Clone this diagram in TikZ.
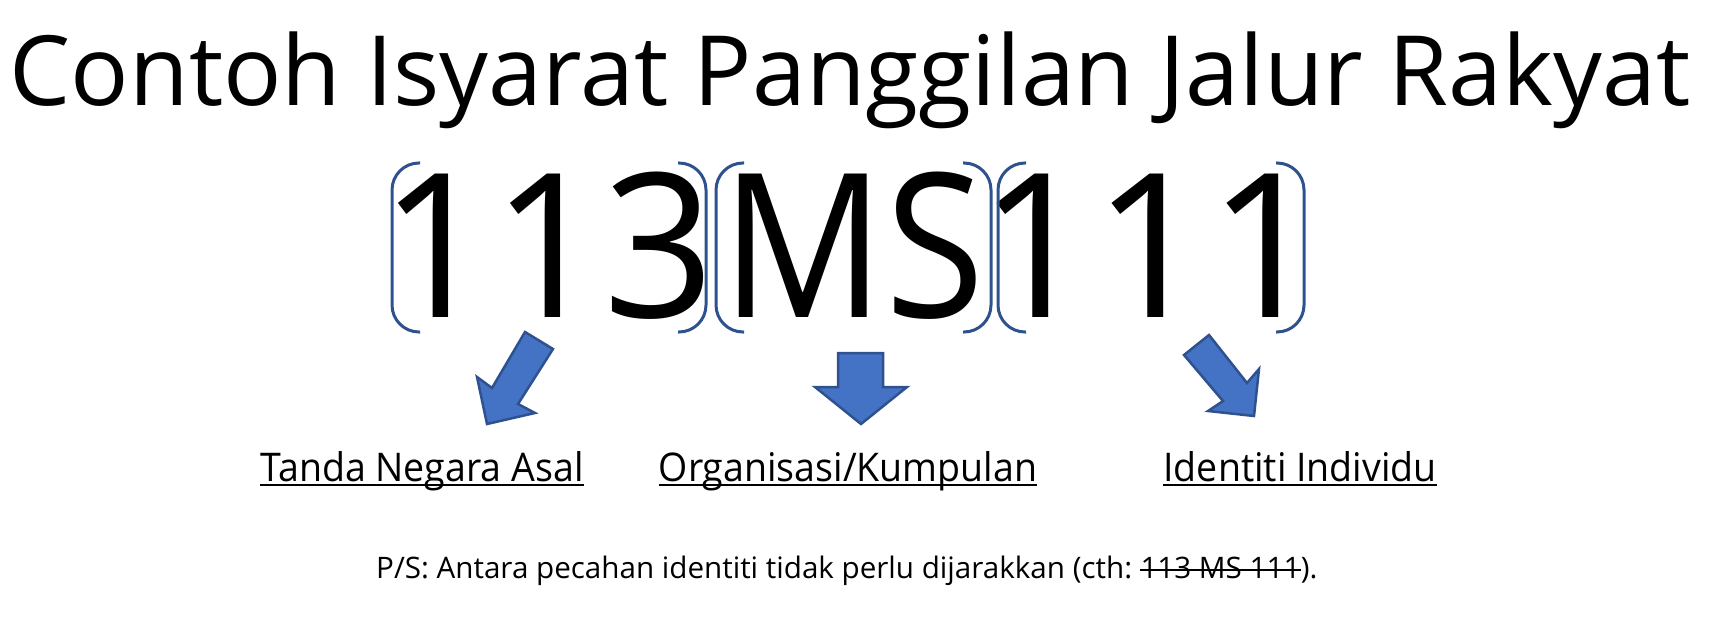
\documentclass[tikz,border=0pt]{standalone}
\usepackage{fontspec}
\setmainfont{Open Sans}
\newfontfamily\narrowfont[FakeStretch=0.9]{Open Sans}
\newfontfamily\digitfont[FakeStretch=0.97]{Open Sans}
\newfontfamily\labelfont[FakeStretch=0.95]{Open Sans}
\definecolor{fillblue}{RGB}{68,114,196}
\definecolor{edgeblue}{RGB}{47,82,143}
\usetikzlibrary{calc}

\begin{document}
\begin{tikzpicture}[x=1pt, y=-1pt,
  heading/.style={anchor=base, inner sep=0pt, font=\fontsize{97}{97}\selectfont},
  callsign/.style={anchor=base, inner sep=0pt, font=\fontsize{201}{201}\selectfont},
  partlabel/.style={anchor=base, inner sep=0pt, font=\labelfont\fontsize{39.5}{39.5}\selectfont},
  note/.style={anchor=base west, inner sep=0pt, font=\fontsize{29.6}{29.6}\selectfont},
  bracket/.style={edgeblue, line width=3pt, rounded corners=27pt},
  blockarrow/.style={fill=fillblue, draw=edgeblue, line width=2.5pt, line join=miter},
  underbar/.style={line width=2.7pt},
]
  \useasboundingbox (0,0) rectangle (1720,617);

  \node[heading] (title) at (850,106) {Contoh Isyarat Panggilan Jalur Rakyat};

  % the three parts of the call sign
  \node[callsign] (country) at (548,317) {\digitfont 113};
  \node[callsign] (club) at (853,317) {\narrowfont MS};
  \node[callsign] (person) at (1151,317) {111};

  \foreach \l/\r in {392/706, 716/991, 998/1304} {
    \draw[bracket] (\l+28,163) -- (\l,163) -- (\l,332) -- (\l+28,332);
    \draw[bracket] (\r-28,163) -- (\r,163) -- (\r,332) -- (\r-28,332);
  }

  % block arrows
  \draw[blockarrow] (525,332) -- (553,349) -- (518,404) -- (535,413)
    -- (487,424) -- (477,377) -- (492,388) -- cycle;
  \draw[blockarrow] (838,353) -- (883,353) -- (883,387) -- (907,387)
    -- (861,424) -- (815,387) -- (838,387) -- cycle;
  \draw[blockarrow] (1184,355) -- (1209,335) -- (1247,383) -- (1259,369)
    -- (1254,416) -- (1208,411) -- (1223,401) -- cycle;

  \node[partlabel] (lcountry) at (422,481) {Tanda Negara Asal};
  \node[partlabel] (lclub) at (848,481) {Organisasi/Kumpulan};
  \node[partlabel] (lperson) at (1300,481) {Identiti Individu};
  \foreach \n in {lcountry, lclub, lperson}
    \draw[underbar] ($(\n.base west)+(0,4)$) -- ($(\n.base east)+(0,4)$);

  % note with the struck-out example
  \node[note] (ps) at (376,578) {P/S: Antara pecahan identiti tidak perlu dijarakkan (cth:};
  \node[note] (wrong) at ($(ps.base east)+(8,0)$) {113 MS 111};
  \node[note] (psend) at (wrong.base east) {).};
  \draw[line width=2pt] ($(wrong.base west)+(0,-8)$) -- ($(wrong.base east)+(0,-8)$);
\end{tikzpicture}
\end{document}
